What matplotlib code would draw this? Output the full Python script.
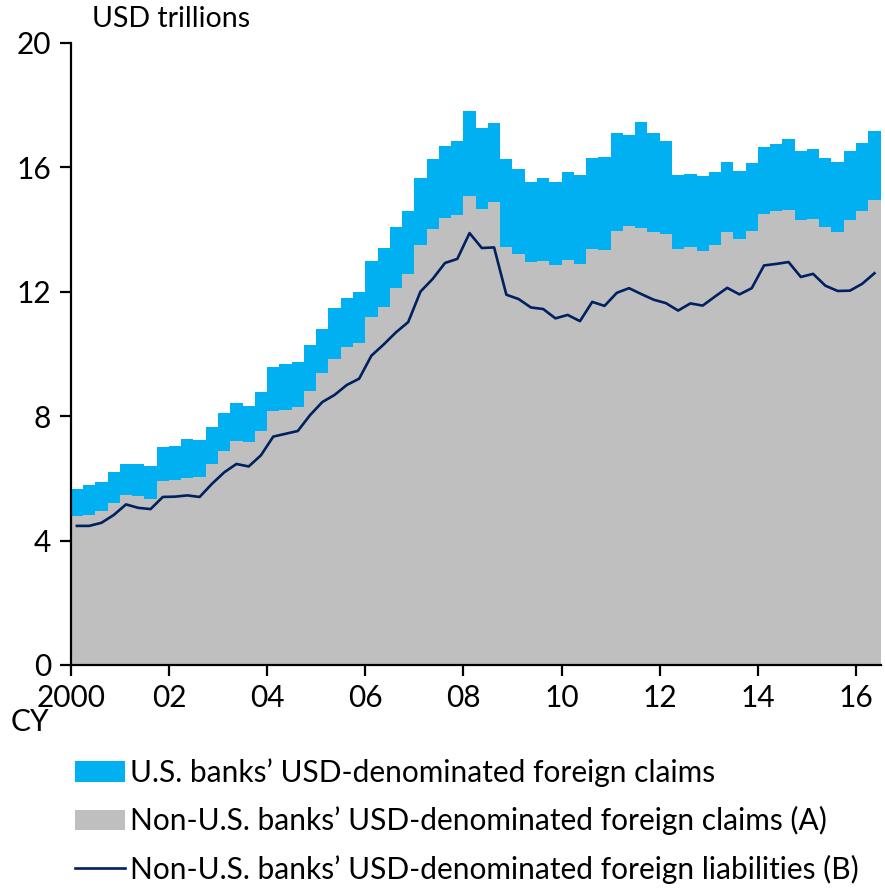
import numpy as np
import matplotlib
matplotlib.use("Agg")
import matplotlib.pyplot as plt
from matplotlib.patches import Patch
from matplotlib.lines import Line2D

plt.rcParams['font.family'] = ['Liberation Sans Narrow', 'Lato', 'DejaVu Sans']

# =============================
# Data (quarterly, 2000Q1 - 2016Q2), USD trillions
# =============================

non_us_claims = [4.79, 4.82, 4.94, 5.20, 5.45, 5.43, 5.33, 5.92, 5.94, 6.01, 6.03, 6.47,
                 6.87, 7.21, 7.15, 7.51, 8.17, 8.19, 8.30, 8.80, 9.38, 9.84, 10.22, 10.34,
                 11.18, 11.49, 12.11, 12.55, 13.49, 14.00, 14.37, 14.47, 15.06, 14.64, 14.89, 13.42,
                 13.21, 12.95, 12.99, 12.87, 13.02, 12.89, 13.38, 13.34, 13.95, 14.12, 14.05, 13.92,
                 13.84, 13.38, 13.42, 13.32, 13.50, 13.90, 13.70, 13.94, 14.50, 14.59, 14.63, 14.29,
                 14.34, 14.06, 13.91, 14.31, 14.60, 14.94]

us_claims = [0.87, 0.96, 0.94, 0.99, 1.02, 1.02, 1.07, 1.08, 1.09, 1.24, 1.19, 1.19,
             1.22, 1.21, 1.17, 1.25, 1.40, 1.47, 1.43, 1.47, 1.42, 1.62, 1.58, 1.65,
             1.79, 1.92, 1.95, 2.05, 2.15, 2.26, 2.30, 2.38, 2.76, 2.61, 2.53, 2.84,
             2.73, 2.57, 2.66, 2.65, 2.82, 2.85, 2.91, 2.98, 3.15, 2.90, 3.39, 3.18,
             3.01, 2.36, 2.37, 2.41, 2.33, 2.27, 2.17, 2.18, 2.15, 2.14, 2.28, 2.24,
             2.24, 2.22, 2.25, 2.20, 2.17, 2.23]

non_us_liabilities = [4.47, 4.47, 4.57, 4.82, 5.16, 5.05, 5.01, 5.40, 5.41, 5.45, 5.40, 5.82,
                      6.19, 6.46, 6.38, 6.74, 7.34, 7.43, 7.52, 8.03, 8.45, 8.68, 9.00, 9.20,
                      9.94, 10.30, 10.69, 11.02, 12.00, 12.41, 12.92, 13.05, 13.88, 13.40, 13.42, 11.90,
                      11.76, 11.49, 11.44, 11.14, 11.25, 11.05, 11.67, 11.54, 11.96, 12.11, 11.92, 11.74,
                      11.63, 11.39, 11.62, 11.55, 11.84, 12.12, 11.91, 12.11, 12.84, 12.89, 12.95, 12.47,
                      12.57, 12.19, 12.02, 12.03, 12.25, 12.59]

year_labels = ["2000", "02", "04", "06", "08", "10", "12", "14", "16"]

labels = ["U.S. banks\u2019 USD-denominated foreign claims",
          "Non-U.S. banks\u2019 USD-denominated foreign claims (A)",
          "Non-U.S. banks\u2019 USD-denominated foreign liabilities (B)"]

BLUE = "#00B0F0"
GRAY = "#BFBFBF"
NAVY = "#002060"

# =============================
# Plot
# =============================

fig = plt.figure(figsize=(8.85, 8.89), dpi=100)
ax = fig.add_axes([0.080, 0.252, 0.915, 0.700])

q = np.arange(len(non_us_claims))
ax.bar(q, non_us_claims, width=1.0, align='edge', color=GRAY, linewidth=0)
ax.bar(q, us_claims, width=1.0, align='edge', bottom=non_us_claims, color=BLUE, linewidth=0)
ax.plot(q + 0.5, non_us_liabilities, color=NAVY, linewidth=1.9)

ax.set_xlim(0, 66)
ax.set_ylim(0, 20)
ax.set_yticks([0, 4, 8, 12, 16, 20])
ax.set_xticks(np.arange(0, 65, 8))
ax.set_xticklabels(year_labels)

for s in ['top', 'right']:
    ax.spines[s].set_visible(False)
for s in ['left', 'bottom']:
    ax.spines[s].set_linewidth(1.6)
    ax.spines[s].set_color('black')

ax.tick_params(axis='both', direction='out', length=8, width=1.6, labelsize=21.5, colors='black')
ax.tick_params(axis='y', pad=6)
ax.tick_params(axis='x', pad=6)

fig.text(0.104, 0.979, "USD trillions", fontsize=20.5, va='center', ha='left')
fig.text(0.012, 0.188, "CY", fontsize=21.5, va='center', ha='left')

handles = [Patch(facecolor=BLUE, edgecolor='none'),
           Patch(facecolor=GRAY, edgecolor='none'),
           Line2D([0], [0], color=NAVY, linewidth=1.9)]
fig.legend(handles, labels, loc='upper left', bbox_to_anchor=(0.0847, 0.147),
           frameon=False, fontsize=21.5, handlelength=1.67, handleheight=0.67,
           handletextpad=0.17, labelspacing=0.64, borderaxespad=0, borderpad=0)

fig.savefig("out.png", dpi=100)
